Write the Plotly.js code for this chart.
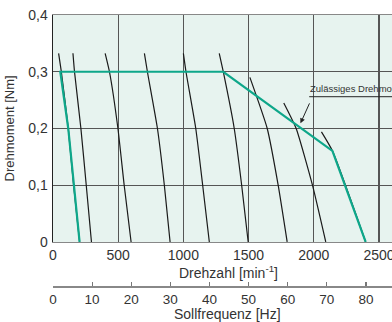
<!DOCTYPE html>
<html>
<head>
<meta charset="utf-8">
<script src="https://cdn.plot.ly/plotly-3.0.1.min.js"></script>
<style>html,body{margin:0;padding:0;background:#fff;overflow:hidden;}#chart{width:392px;height:322px;}</style>
</head>
<body>
<div id="chart"></div>
<script>
// ---- data ----
const curve1Rpm = [43, 64, 117, 158, 204];
const curve1Nm  = [0.3325, 0.3, 0.2, 0.1, 0];
const curve2Rpm = [153, 165, 214, 255, 295];
const curve2Nm  = [0.3325, 0.3, 0.2, 0.1, 0];
const curve3Rpm = [400, 433, 498, 546, 599];
const curve3Nm  = [0.3325, 0.3, 0.2, 0.1, 0];
const curve4Rpm = [701, 724, 801, 854, 898];
const curve4Nm  = [0.3325, 0.3, 0.2, 0.1, 0];
const curve5Rpm = [1000, 1020, 1095, 1148, 1199];
const curve5Nm  = [0.3325, 0.3, 0.2, 0.1, 0];
const curve6Rpm = [1275, 1306, 1390, 1447, 1497];
const curve6Nm  = [0.3325, 0.3, 0.2, 0.1, 0];
const curve7Rpm = [1510, 1643, 1727, 1796];
const curve7Nm  = [0.29, 0.2, 0.1, 0];
const curve8Rpm = [1770, 1865, 1990, 2092];
const curve8Nm  = [0.245, 0.2, 0.1, 0];
const curve9Rpm = [2059, 2143, 2398];
const curve9Nm  = [0.194, 0.1606, 0];

const permRpm = [204, 117, 56, 1306, 2143, 2398];
const permNm  = [0, 0.2, 0.3, 0.3, 0.1606, 0];

const rpmRange = [0, 2600];
const nmRange = [0, 0.4];
const xTickVals = [0, 500, 1000, 1500, 2000, 2500];
const yTickVals = [0, 0.1, 0.2, 0.3, 0.4];
const yTickText = ['0', '0,1', '0,2', '0,3', '0,4'];
const hzTickVals = [0, 10, 20, 30, 40, 50, 60, 70, 80];
const rpmPerHz = 30;

const labelText = 'Zulässiges Drehmoment';
const labelPointRpm = 1898, labelPointNm = 0.209;
const labelTailRpm = 1990, labelTailNm = 0.256;
const labelLineRpm = [1965, 2600];

// ---- chart ----
const FONT = '"Liberation Sans Narrow", "Liberation Sans", Arial, sans-serif';
const black = '#1a1a1a';
const curves = [
  [curve1Rpm, curve1Nm], [curve2Rpm, curve2Nm], [curve3Rpm, curve3Nm],
  [curve4Rpm, curve4Nm], [curve5Rpm, curve5Nm], [curve6Rpm, curve6Nm],
  [curve7Rpm, curve7Nm], [curve8Rpm, curve8Nm], [curve9Rpm, curve9Nm]
];
const traces = curves.map(c => ({
  x: c[0], y: c[1], type: 'scatter', mode: 'lines',
  line: {color: black, width: 1.2, shape: 'spline', smoothing: 0.5},
  hoverinfo: 'skip', showlegend: false, xaxis: 'x', yaxis: 'y'
}));
traces.push({
  x: permRpm, y: permNm, type: 'scatter', mode: 'lines',
  line: {color: '#0ea78a', width: 2.2}, showlegend: false, xaxis: 'x', yaxis: 'y'
});
// invisible trace that activates the frequency axis
traces.push({
  x: [hzTickVals[0], hzTickVals[hzTickVals.length - 1]], y: [nmRange[0], nmRange[0]],
  type: 'scatter', mode: 'lines', line: {width: 0, color: 'rgba(0,0,0,0)'}, showlegend: false,
  hoverinfo: 'skip', xaxis: 'x2', yaxis: 'y'
});

const tickFont = {family: FONT, size: 14, color: '#333'};
const layout = {
  width: 392, height: 322,
  margin: {l: 53, r: 0, t: 15, b: 36},
  paper_bgcolor: '#ffffff',
  plot_bgcolor: '#e7f3ef',
  showlegend: false,
  xaxis: {
    domain: [0, 1], anchor: 'y', range: rpmRange,
    tickvals: xTickVals, ticks: '', showgrid: true, gridcolor: '#555', gridwidth: 1.2,
    zeroline: false, showline: true, linecolor: '#888', linewidth: 1.5, mirror: true,
    tickfont: tickFont, ticklabelstandoff: 0, ticklabeloverflow: 'allow'
  },
  yaxis: {
    domain: [0.1625, 1], anchor: 'x', range: nmRange,
    tickvals: yTickVals, ticktext: yTickText, ticks: '',
    showgrid: true, gridcolor: '#555', gridwidth: 1.2,
    zeroline: false, showline: true, linecolor: '#222', linewidth: 1.5,
    tickfont: tickFont, ticklabelstandoff: 1
  },
  xaxis2: {
    anchor: 'free', position: 0, overlaying: 'x', side: 'bottom',
    range: [rpmRange[0] / rpmPerHz, rpmRange[1] / rpmPerHz],
    tickvals: hzTickVals, ticks: 'inside', ticklen: 4, tickcolor: '#777', tickwidth: 1.2,
    showgrid: false, zeroline: false, showline: true, linecolor: '#888', linewidth: 1.5,
    tickfont: {family: FONT, size: 13.5, color: '#333'}, ticklabelstandoff: 0, ticklabeloverflow: 'allow'
  },
  shapes: [{
    type: 'line', xref: 'x', yref: 'y',
    x0: labelLineRpm[0], x1: labelLineRpm[1], y0: labelTailNm, y1: labelTailNm,
    line: {color: '#222', width: 1}
  }],
  annotations: [
    {xref: 'x', yref: 'y', x: labelLineRpm[0] + 5, y: labelTailNm, xanchor: 'left',
     yanchor: 'bottom', yshift: 1, xshift: -2, text: labelText, showarrow: false,
     font: {family: FONT, size: 9.5, color: '#333'}},
    {xref: 'x', yref: 'y', x: labelPointRpm, y: labelPointNm,
     axref: 'x', ayref: 'y', ax: labelTailRpm, ay: labelTailNm,
     text: ' ', showarrow: true, arrowhead: 2, arrowsize: 1, arrowwidth: 1,
     arrowcolor: '#222', standoff: 0, startstandoff: 0},
    {xref: 'paper', yref: 'paper', x: 0.519, y: 0.0517, xanchor: 'center', yanchor: 'middle',
     text: 'Drehzahl [min<sup>-1</sup>]', showarrow: false, font: {family: FONT, size: 14, color: '#333'}},
    {xref: 'paper', yref: 'paper', x: 0.516, y: -0.104, xanchor: 'center', yanchor: 'middle',
     text: 'Sollfrequenz [Hz]', showarrow: false, font: {family: FONT, size: 14, color: '#333'}},
    {xref: 'paper', yref: 'paper', x: -0.127, y: 0.581, xanchor: 'center', yanchor: 'middle',
     textangle: -90, text: 'Drehmoment [Nm]', showarrow: false, font: {family: FONT, size: 13, color: '#333'}}
  ]
};
Plotly.newPlot('chart', traces, layout, {staticPlot: true, displayModeBar: false});
</script>
</body>
</html>
